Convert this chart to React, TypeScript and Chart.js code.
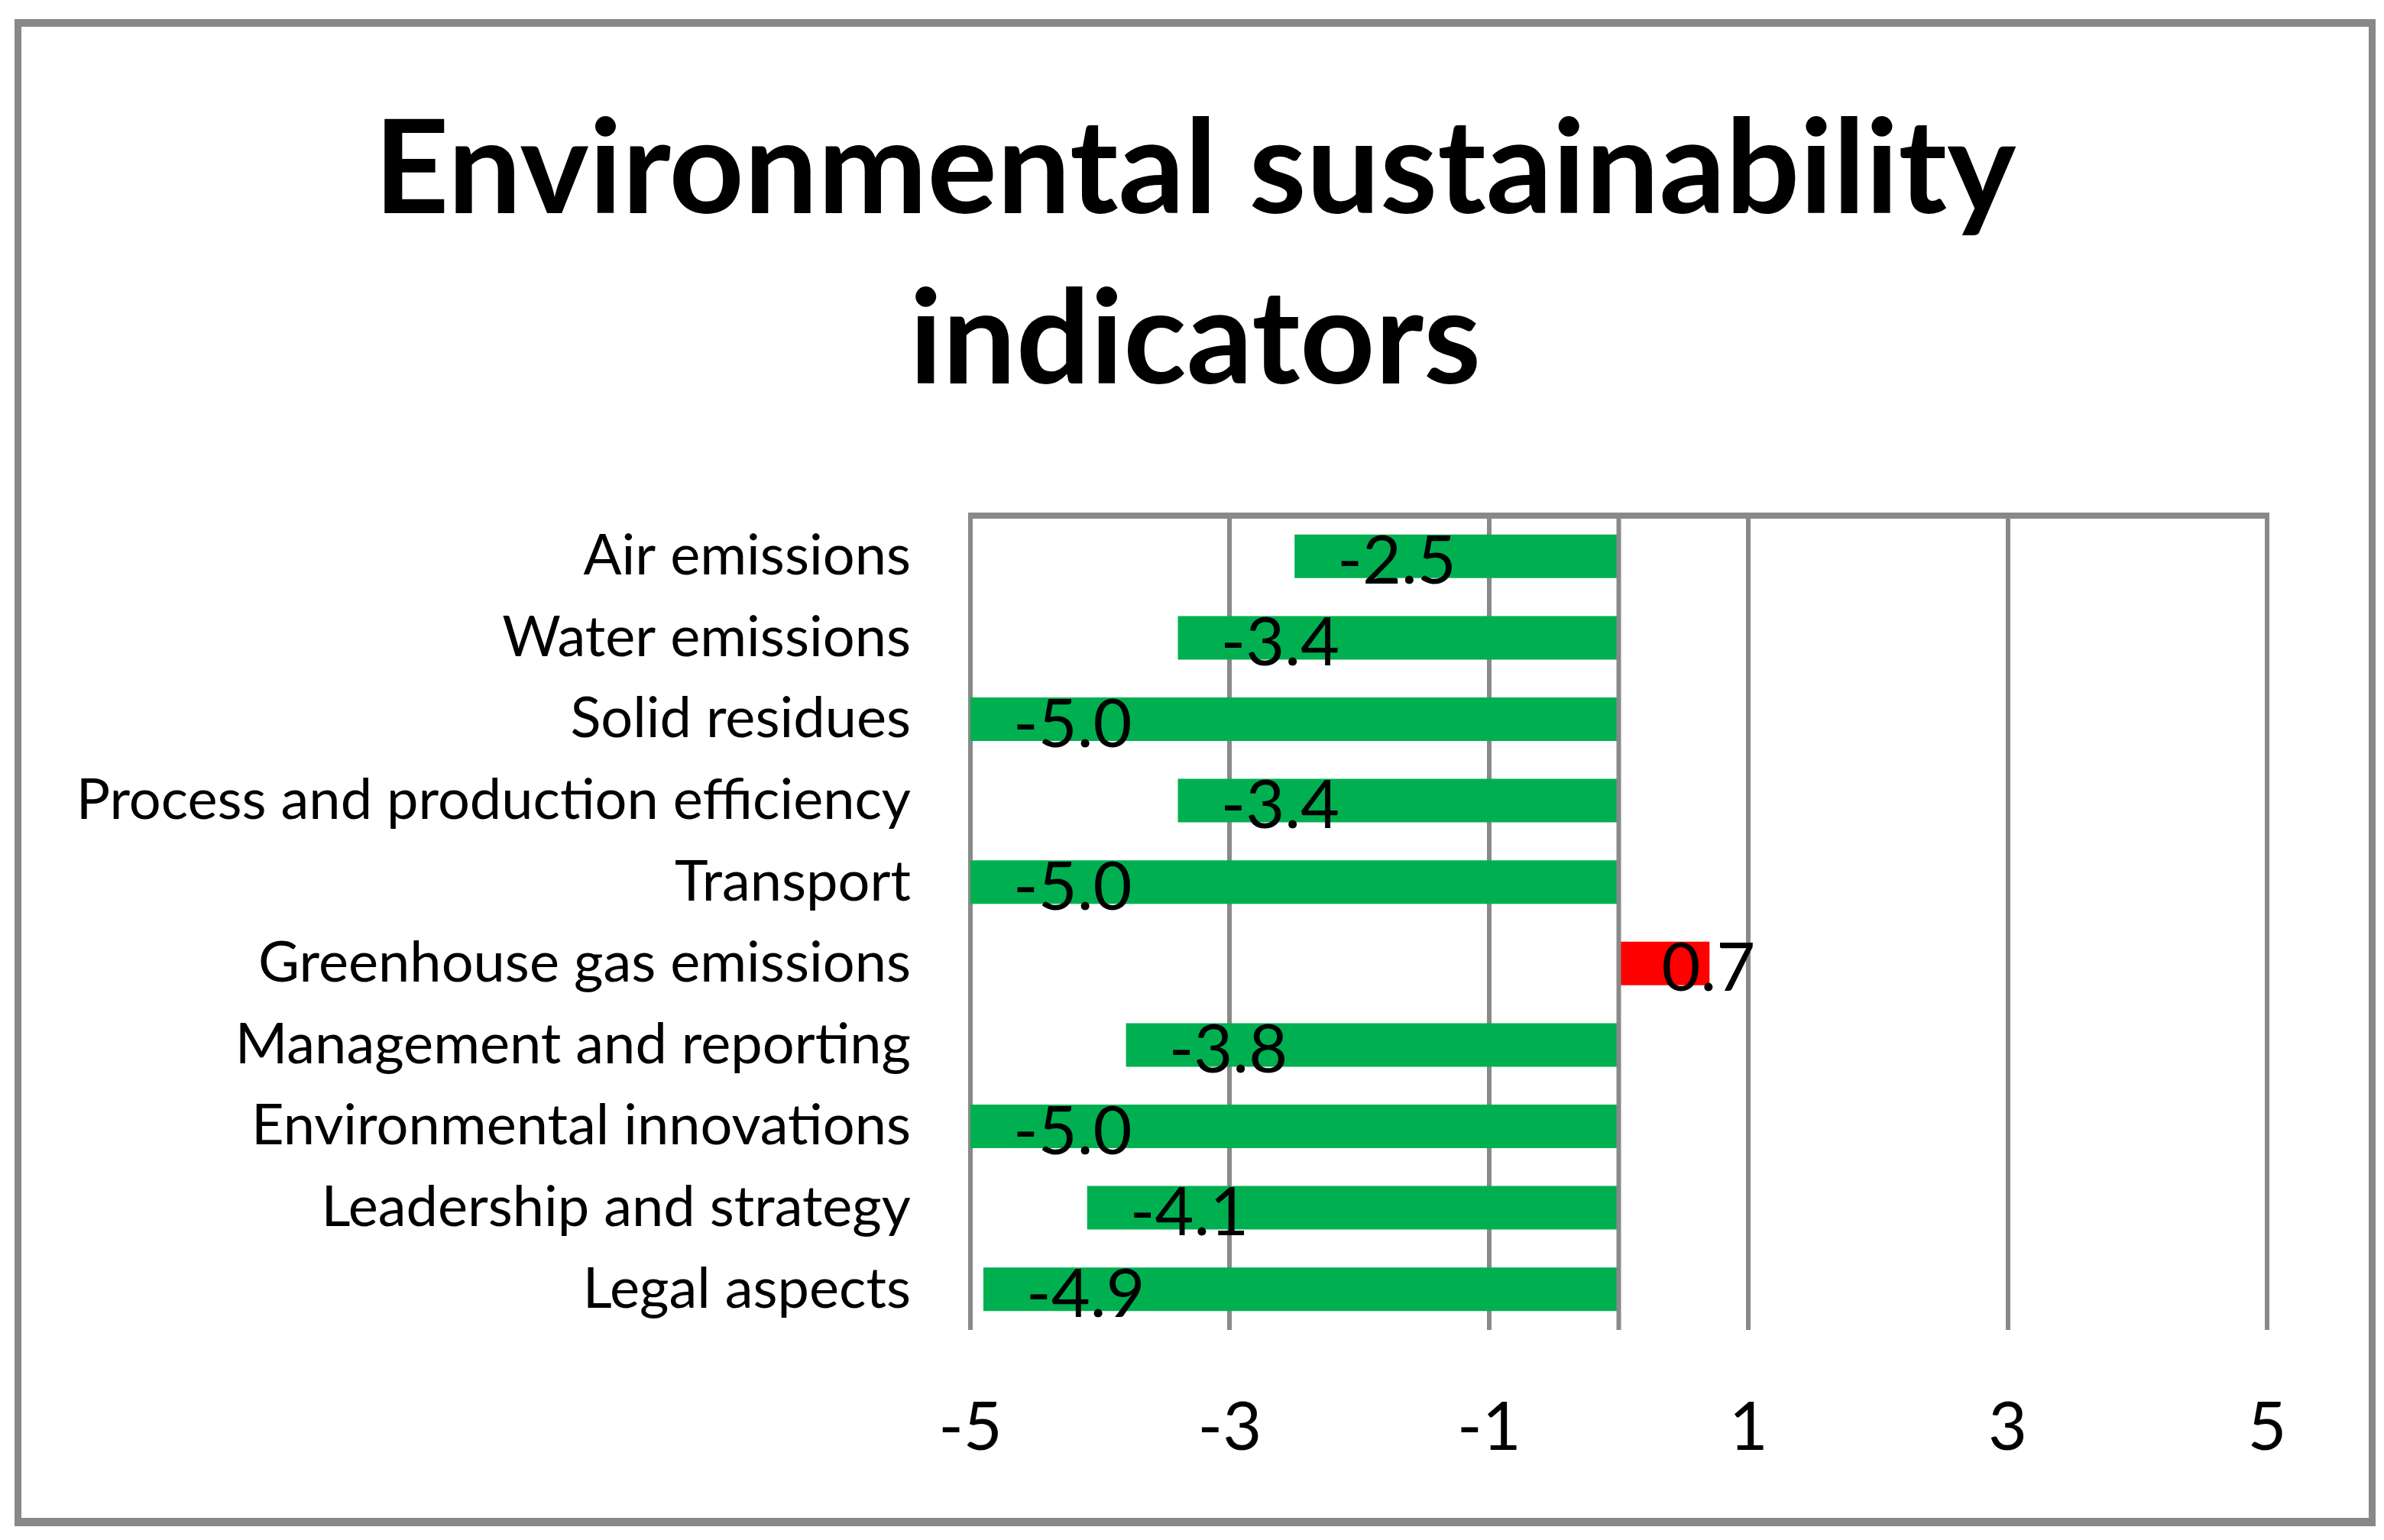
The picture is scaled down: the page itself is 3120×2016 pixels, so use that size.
import React, { useEffect, useRef } from "react";
import { Chart, registerables } from "chart.js";

Chart.register(...registerables);

const categories = [
  "Air emissions",
  "Water emissions",
  "Solid residues",
  "Process and production efficiency",
  "Transport",
  "Greenhouse gas emissions",
  "Management and reporting",
  "Environmental innovations",
  "Leadership and strategy",
  "Legal aspects",
];
const values = [-2.5, -3.4, -5.0, -3.4, -5.0, 0.7, -3.8, -5.0, -4.1, -4.9];
const titleLines = ["Environmental sustainability", "indicators"];
const xMin = -5;
const xMax = 5;
const xStep = 2;

const GRID = "#898989";
const GREEN = "#00B050";
const RED = "#FF0000";
const FONT = "Lato, 'Open Sans', sans-serif";

const CW = 3072;
const CH = 1952;
const PLOT_LEFT = 1242;
const PLOT_RIGHT = 2939;
const PLOT_BOTTOM = 1706;

const overlayPlugin = {
  id: "overlay",
  afterDatasetsDraw(chart: any) {
    const { ctx, chartArea } = chart;
    const x = chart.scales.x;
    const meta = chart.getDatasetMeta(0);
    ctx.save();
    ctx.strokeStyle = GRID;
    // zero axis line drawn above bars
    const x0 = x.getPixelForValue(0);
    ctx.lineWidth = 6;
    ctx.beginPath();
    ctx.moveTo(x0, chartArea.top);
    ctx.lineTo(x0, chartArea.bottom);
    ctx.stroke();
    // top border
    ctx.lineWidth = 8;
    ctx.beginPath();
    ctx.moveTo(chartArea.left - 3, chartArea.top);
    ctx.lineTo(chartArea.right + 3, chartArea.top);
    ctx.stroke();
    // data labels
    ctx.font = `88px ${FONT}`;
    ctx.fillStyle = "#000";
    ctx.textAlign = "left";
    ctx.textBaseline = "alphabetic";
    meta.data.forEach((bar: any, i: number) => {
      const v = values[i];
      const left = x.getPixelForValue(Math.min(v, 0));
      ctx.fillText(v.toFixed(1), left + 56, bar.y + 36);
    });
    ctx.restore();
  },
};

export default function App() {
  const ref = useRef<HTMLCanvasElement | null>(null);
  useEffect(() => {
    if (!ref.current) return;
    const chart = new Chart(ref.current, {
      type: "bar",
      data: {
        labels: categories,
        datasets: [
          {
            data: values,
            backgroundColor: values.map((v) => (v < 0 ? GREEN : RED)),
            borderWidth: 0,
            barPercentage: 0.535,
            categoryPercentage: 1,
          },
        ],
      },
      options: {
        responsive: false,
        animation: false,
        indexAxis: "y",
        layout: { padding: 0 },
        plugins: {
          legend: { display: false },
          tooltip: { enabled: false },
          title: {
            display: true,
            text: titleLines,
            color: "#000",
            font: { family: FONT, weight: "bold", size: 171, lineHeight: 223 / 171 },
            padding: { top: 77, bottom: 117 },
          },
        },
        scales: {
          x: {
            type: "linear",
            min: xMin,
            max: xMax,
            ticks: {
              stepSize: xStep,
              color: "#000",
              font: { family: FONT, size: 88 },
              padding: 76,
            },
            grid: { color: GRID, lineWidth: 6, drawTicks: false },
            border: { display: false },
            afterFit: (s: any) => {
              s.height = CH - PLOT_BOTTOM;
            },
          },
          y: {
            ticks: {
              color: "#000",
              font: { family: FONT, size: 74 },
              padding: 70,
            },
            grid: { display: false },
            border: { display: false },
            afterFit: (s: any) => {
              s.width = PLOT_LEFT;
            },
          },
          yRight: {
            type: "category",
            position: "right",
            display: true,
            ticks: { display: false },
            grid: { display: false },
            border: { display: false },
            afterFit: (s: any) => {
              s.width = CW - PLOT_RIGHT;
            },
          },
        },
      } as any,
      plugins: [overlayPlugin],
    });
    return () => chart.destroy();
  }, []);

  return (
    <div
      style={{
        position: "absolute",
        left: 19,
        top: 25,
        width: 3090,
        height: 1973,
        boxSizing: "border-box",
        borderStyle: "solid",
        borderColor: "#888888",
        borderWidth: "10px 9px 11px 9px",
        background: "#fff",
      }}
    >
      <canvas ref={ref} width={CW} height={CH} style={{ display: "block", width: CW, height: CH }} />
    </div>
  );
}
